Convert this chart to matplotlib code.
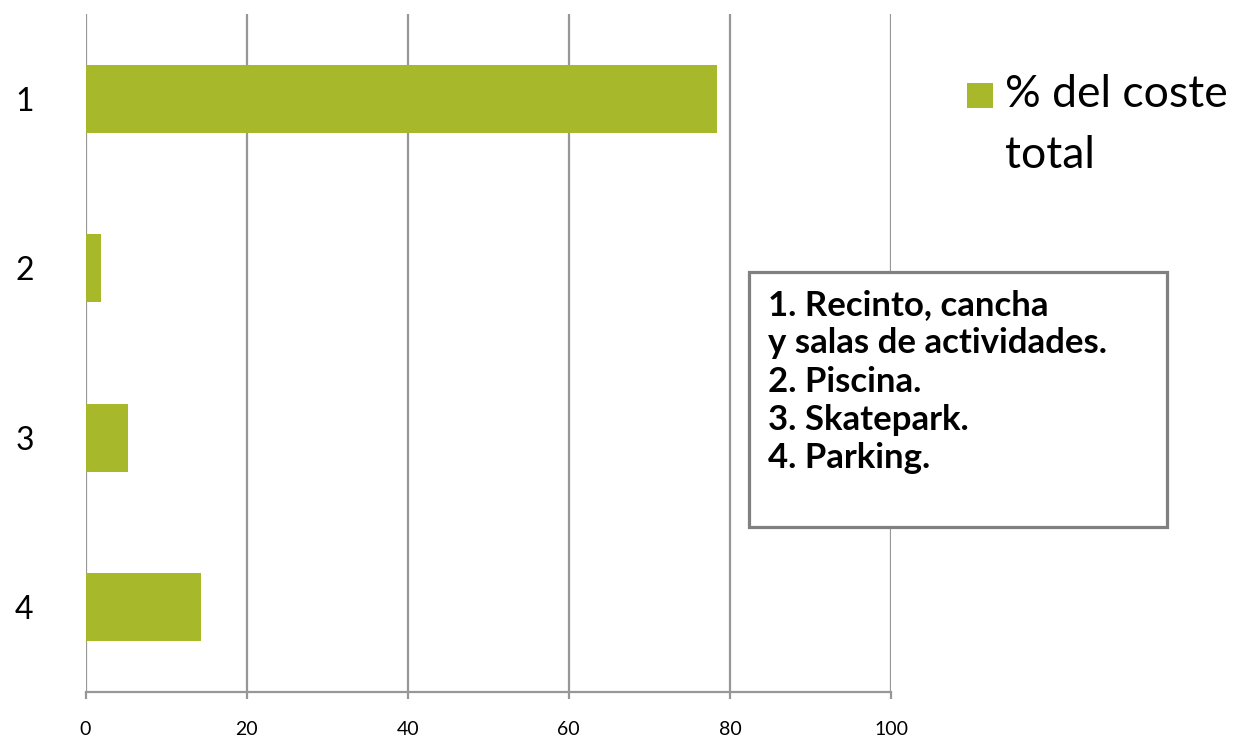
import matplotlib
matplotlib.use("Agg")
import matplotlib.pyplot as plt
from matplotlib.patches import Rectangle

plt.rcParams["font.family"] = ["Lato", "DejaVu Sans"]

# data
categories = ["1", "2", "3", "4"]
cost_share = [78.4, 1.9, 5.3, 14.4]
series_name = "% del coste\ntotal"
x_ticks = [0, 20, 40, 60, 80, 100]
note_lines = ["1. Recinto, cancha", "y salas de actividades.", "2. Piscina.",
              "3. Skatepark.", "4. Parking."]

BAR = "#A7B82A"
GRID = "#979797"

W, H = 1237, 739
fig = plt.figure(figsize=(W / 100, H / 100), dpi=100)
ax = fig.add_axes([85.5 / W, 1 - 692 / H, (891 - 85.5) / W, (692 - 14) / H])

pos = list(range(len(categories)))
ax.barh(pos, cost_share, height=0.4, color=BAR, zorder=3)
ax.set_ylim(len(categories) - 0.5, -0.5)
ax.set_xlim(0, 100)
ax.set_yticks(pos)
ax.set_yticklabels(categories, fontsize=23)
ax.set_xticks(x_ticks)
ax.set_xticklabels([str(t) for t in x_ticks], fontsize=14)
ax.tick_params(axis="y", length=0, pad=44)
ax.tick_params(axis="x", length=5, width=1.6, color=GRID, pad=16)
for lab in ax.get_yticklabels():
    lab.set_horizontalalignment("center")
ax.xaxis.grid(True, color=GRID, linewidth=1.6, zorder=0)
for side in ["top", "right", "left"]:
    ax.spines[side].set_visible(False)
ax.spines["bottom"].set_color(GRID)
ax.spines["bottom"].set_linewidth(1.6)

# legend, drawn by hand so the two label lines sit as far apart as in the reference
fig.patches.append(Rectangle((967 / W, 1 - 108 / H), 26 / W, 25 / H,
                             transform=fig.transFigure, facecolor=BAR,
                             edgecolor="none"))
for i, line in enumerate(series_name.split("\n")):
    fig.text(1005 / W, 1 - (107 + 61 * i) / H, line, fontsize=32,
             va="baseline", ha="left")

# note box
fig.patches.append(Rectangle((749 / W, 1 - 527 / H), 418 / W, 255 / H,
                             transform=fig.transFigure, facecolor="white",
                             edgecolor="#808080", linewidth=2.3, zorder=5))
for i, line in enumerate(note_lines):
    fig.text(768 / W, 1 - (315 + 38.3 * i) / H, line, fontsize=25,
             fontweight="bold", va="baseline", ha="left", zorder=6)

fig.savefig("out.png", dpi=100)
